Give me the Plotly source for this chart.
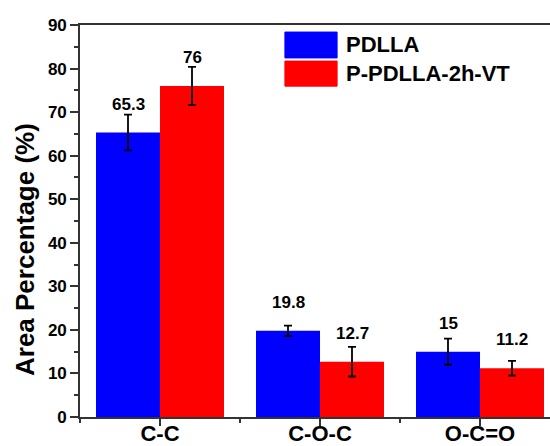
import plotly.graph_objects as go

categories = ["C-C", "C-O-C", "O-C=O"]
series_names = ["PDLLA", "P-PDLLA-2h-VT"]
pdlla = [65.3, 19.8, 15.0]
pdlla_err = [4.1, 1.2, 3.0]
ppdlla = [76.0, 12.7, 11.2]
ppdlla_err = [4.4, 3.4, 1.7]
value_labels_pdlla = ["65.3", "19.8", "15"]
value_labels_ppdlla = ["76", "12.7", "11.2"]
y_ticks = [0, 10, 20, 30, 40, 50, 60, 70, 80, 90]
y_title = "Area Percentage (%)"

colors = ["#0000FF", "#FF0000"]
xs = list(range(len(categories)))
FONT = "Liberation Sans, Arial"

fig = go.Figure()
for name, vals, errs, col in [(series_names[0], pdlla, pdlla_err, colors[0]),
                              (series_names[1], ppdlla, ppdlla_err, colors[1])]:
    fig.add_trace(go.Bar(
        x=xs, y=vals, name=name,
        marker=dict(color=col, line=dict(width=0)),
        error_y=dict(type="data", array=errs, visible=True, color="black",
                     thickness=1.8, width=4),
        showlegend=False,
    ))

annotations = []
for off, vals, labs in [(-0.2, pdlla, value_labels_pdlla), (0.2, ppdlla, value_labels_ppdlla)]:
    for i, (v, lab) in enumerate(zip(vals, labs)):
        annotations.append(dict(x=i + off, y=v, text="<b>%s</b>" % lab, showarrow=False,
                                xref="x", yref="y", yanchor="bottom", yshift=17,
                                font=dict(size=17, color="black", family=FONT)))

# manual legend
leg_rows = [(0.982, 0.916, 0.949), (0.908, 0.844, 0.877)]
shapes = []
for (y0, y1, yt), name, col in zip(leg_rows, series_names, colors):
    shapes.append(dict(type="rect", xref="paper", yref="paper",
                       x0=0.436, x1=0.547, y0=y1, y1=y0,
                       fillcolor=col, line=dict(width=1, color=col)))
    annotations.append(dict(x=0.562, y=yt, xref="paper", yref="paper",
                            text="<b>%s</b>" % name, showarrow=False,
                            xanchor="left", yanchor="middle",
                            font=dict(size=22, color="black", family=FONT)))

# y-axis title as rotated annotation
annotations.append(dict(x=-0.117, y=0.426, xref="paper", yref="paper",
                        text="<b>%s</b>" % y_title, showarrow=False, textangle=-90,
                        xanchor="center", yanchor="middle",
                        font=dict(size=26, color="black", family=FONT)))

fig.update_layout(
    width=550, height=446,
    margin=dict(l=80, r=0, t=25, b=29),
    paper_bgcolor="white", plot_bgcolor="white",
    barmode="group", bargap=0.2, bargroupgap=0,
    font=dict(family=FONT, color="black"),
    annotations=annotations, shapes=shapes,
    xaxis=dict(
        range=[-0.5, 2.4375], tickmode="array", tickvals=xs,
        ticktext=["<b>%s</b>" % c for c in categories],
        tickfont=dict(size=22, color="black"),
        automargin=False, ticklabelstandoff=-11,
        showline=True, linecolor="#333333", linewidth=1.6, mirror=True,
        ticks="outside", ticklen=7, tickwidth=1.6, tickcolor="#333333",
        showgrid=False, zeroline=False,
        minor=dict(tickmode="array", tickvals=[-0.5, 0.5, 1.5], ticks="outside",
                   ticklen=4, tickwidth=1.6, tickcolor="#333333", showgrid=False),
    ),
    yaxis=dict(
        range=[0, 90], tickmode="array", tickvals=y_ticks,
        ticktext=["<b>%d</b>" % t for t in y_ticks],
        tickfont=dict(size=17, color="black"),
        automargin=False,
        showline=True, linecolor="#333333", linewidth=1.6, mirror=False,
        ticks="outside", ticklen=8, tickwidth=1.6, tickcolor="#333333",
        showgrid=False, zeroline=False,
        minor=dict(dtick=5, tick0=0, ticks="outside", ticklen=4, tickwidth=1.6,
                   tickcolor="#333333", showgrid=False),
    ),
)

fig.write_html("out.html")
